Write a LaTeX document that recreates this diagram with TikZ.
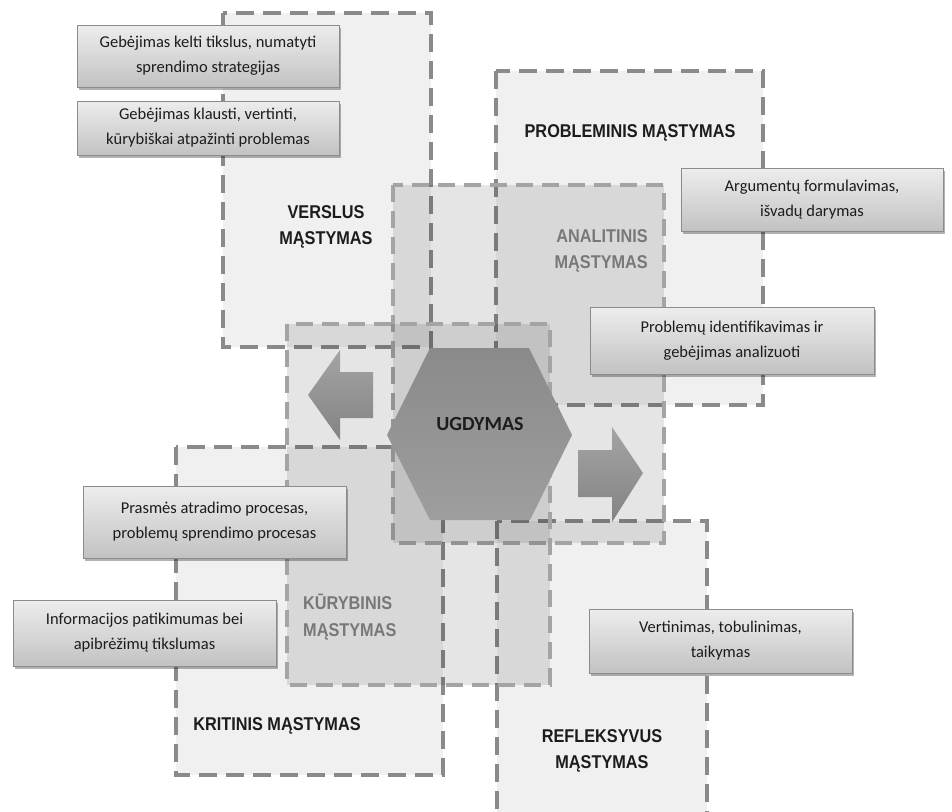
\documentclass[tikz,border=0pt]{standalone}
\usepackage{fontspec}
\setmainfont{Carlito}
\newfontfamily\hdfont[FakeStretch=0.88]{Liberation Sans}
\usetikzlibrary{shadows}
\definecolor{edgeA}{HTML}{8A8A8A}
\definecolor{edgeB}{HTML}{A4A4A4}
\definecolor{boxtop}{HTML}{EDEDED}
\definecolor{boxbot}{HTML}{C2C2C2}
\definecolor{boxedge}{HTML}{8C8C8C}
\definecolor{hexTop}{HTML}{8A8A8A}
\definecolor{hexBot}{HTML}{9E9E9E}
\definecolor{arrTop}{HTML}{A4A4A4}
\definecolor{arrBot}{HTML}{838383}
\definecolor{darktext}{HTML}{1C1C1C}
\definecolor{softtext}{HTML}{787878}
\begin{document}
\begin{tikzpicture}[x=1pt,y=-1pt,
  zone/.style={fill=black, fill opacity=0.06, draw=edgeA, line width=3.6pt, dash pattern=on 18pt off 9pt},
  innerzone/.style={fill=black, fill opacity=0.10, draw=edgeB, line width=3.6pt, dash pattern=on 17pt off 9pt},
  infobox/.style={draw=boxedge, line width=0.8pt, top color=boxtop, bottom color=boxbot,
    inner sep=0pt, align=center, text=darktext,
    font=\fontsize{16.5}{25}\selectfont,
    drop shadow={shadow xshift=1.5pt, shadow yshift=-2.5pt, opacity=0.3, fill=black}},
  head/.style={inner sep=0pt, text=darktext, font=\hdfont\bfseries\fontsize{18.5}{26.5}\selectfont},
  softhead/.style={head, text=softtext},
  bigarrow/.style={top color=arrTop, bottom color=arrBot, draw=none}
]
\useasboundingbox (0,0) rectangle (952,811);
\clip (0,0) rectangle (952,811);

% outer zones
\draw[zone] (223,13) rectangle (431,347);   % verslus
\draw[zone] (496,71) rectangle (763,405);   % probleminis
\draw[zone] (176,447) rectangle (443,775);  % kritinis
\draw[zone] (497,521) rectangle (707,840);  % refleksyvus

% inner zones
\draw[innerzone] (393,185) rectangle (664,543); % analitinis
\draw[innerzone] (287,324) rectangle (550,685); % kurybinis

% arrows
\path[bigarrow] (308,395) -- (340,350) -- (340,372) -- (373,372) -- (373,418) -- (340,418) -- (340,440) -- cycle;
\path[bigarrow] (578,450) -- (612,450) -- (612,427) -- (643,473) -- (612,522) -- (612,497) -- (578,497) -- cycle;

% hexagon
\path[top color=hexTop, bottom color=hexBot] (430,348) -- (529,348) -- (572,435) -- (530,520) -- (430,520) -- (387,435) -- cycle;
\node[text=darktext, font=\bfseries\fontsize{20}{24}\selectfont] (ugd) at (480,424) {UGDYMAS};

% zone titles
\node[head, align=center] (vers) at (326,227) {VERSLUS\\MĄSTYMAS};
\node[head] (prob) at (630,133) {PROBLEMINIS MĄSTYMAS};
\node[softhead, align=right, anchor=east] (anal) at (648,251) {ANALITINIS\\MĄSTYMAS};
\node[softhead, align=left, anchor=west] (kur) at (303,617) {KŪRYBINIS\\MĄSTYMAS};
\node[head] (krit) at (277,726) {KRITINIS MĄSTYMAS};
\node[head, align=center] (refl) at (602,751) {REFLEKSYVUS\\MĄSTYMAS};

% info boxes
\node[infobox, minimum width=262pt, minimum height=62pt] (b1) at (208,56) {Gebėjimas kelti tikslus, numatyti\\sprendimo strategijas};
\node[infobox, minimum width=262pt, minimum height=54pt] (b2) at (208,128) {Gebėjimas klausti, vertinti,\\kūrybiškai atpažinti problemas};
\node[infobox, minimum width=262pt, minimum height=63pt] (b3) at (812,199.5) {Argumentų formulavimas,\\išvadų darymas};
\node[infobox, minimum width=284pt, minimum height=67pt] (b4) at (732,340.5) {Problemų identifikavimas ir\\gebėjimas analizuoti};
\node[infobox, minimum width=263pt, minimum height=72pt] (b5) at (214.5,522) {Prasmės atradimo procesas,\\problemų sprendimo procesas};
\node[infobox, minimum width=263pt, minimum height=66pt] (b6) at (144.5,633) {Informacijos patikimumas bei\\apibrėžimų tikslumas};
\node[infobox, minimum width=263pt, minimum height=64pt] (b7) at (720.5,641) {Vertinimas, tobulinimas,\\taikymas};
\end{tikzpicture}
\end{document}
